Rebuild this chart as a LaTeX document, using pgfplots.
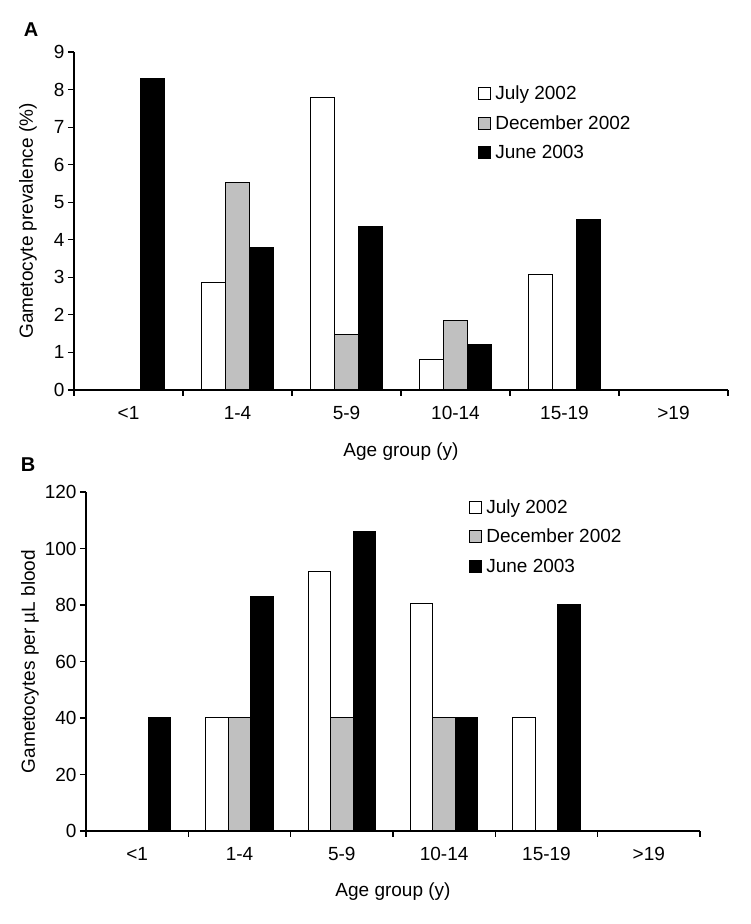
\documentclass[border=0pt]{standalone}
\usepackage{fontspec}
\setmainfont{Liberation Sans}
\usepackage{pgfplots}
\pgfplotsset{compat=1.18}
\definecolor{bargray}{RGB}{192,192,192}

\pgfplotsset{
  agestyle/.style={
    scale only axis,
    anchor=south west,
    xmin=-0.5, xmax=5.5,
    ymin=0,
    axis x line*=bottom, axis y line*=left,
    axis line style={line width=1.3pt, black},
    tick align=outside,
    xtick={-0.5,0.5,...,5.5},
    x tick label as interval,
    xticklabels={<1,1-4,5-9,10-14,15-19,>19},
    xticklabel style={yshift=-7pt},
    major tick length=6pt,
    every tick/.style={line width=1.2pt, black},
    ybar=0pt, bar width=0.22,
    tick label style={font=\fontsize{19}{22}\selectfont},
    label style={font=\fontsize{19}{22}\selectfont},
    /pgf/number format/assume math mode=true,
    legend style={draw=none, fill=none, font=\fontsize{19}{22}\selectfont,
      anchor=north west, row sep=10.5pt, column sep=2.8pt, inner sep=0pt},
    legend cell align=left,
    legend image code/.code={\draw[#1, line width=0.8pt] (0pt,-6pt) rectangle (12pt,6pt);},
  },
  julybar/.style={fill=white, draw=black, line width=1pt},
  decbar/.style={fill=bargray, draw=black, line width=1pt},
  junebar/.style={fill=black, draw=black, line width=1pt},
}

\begin{document}
\begin{tikzpicture}
\path[use as bounding box] (0,0) rectangle (750pt,924pt);

% panel A: prevalence
\begin{axis}[agestyle,
  at={(74pt,534pt)}, width=654pt, height=338pt,
  ymax=9, ytick={0,1,...,9},
  ylabel={Gametocyte prevalence (\%)},
  ylabel style={at={(axis description cs:-0.0703,0.5)}, anchor=center},
  xlabel={Age group (y)},
  xlabel style={at={(axis description cs:0.5,-0.183)}, anchor=center},
  legend style={at={(0.617,0.906)}},
]
\addplot[julybar] coordinates {(1,2.85) (2,7.8) (3,0.8) (4,3.08)};
\addlegendentry{July 2002}
\addplot[decbar] coordinates {(1,5.53) (2,1.49) (3,1.86)};
\addlegendentry{December 2002}
\addplot[junebar] coordinates {(0,8.3) (1,3.8) (2,4.36) (3,1.22) (4,4.54)};
\addlegendentry{June 2003}
\end{axis}

% panel B: density
\begin{axis}[agestyle,
  at={(86pt,93pt)}, width=614pt, height=339pt,
  ymax=120, ytick={0,20,...,120},
  ylabel={Gametocytes per µL blood},
  ylabel style={at={(axis description cs:-0.0912,0.5)}, anchor=center},
  xlabel={Age group (y)},
  xlabel style={at={(axis description cs:0.5,-0.18)}, anchor=center},
  legend style={at={(0.623,0.985)}},
]
\addplot[julybar] coordinates {(1,40) (2,91.7) (3,80.4) (4,40)};
\addlegendentry{July 2002}
\addplot[decbar] coordinates {(1,40) (2,40) (3,40)};
\addlegendentry{December 2002}
\addplot[junebar] coordinates {(0,40) (1,83) (2,106) (3,40) (4,80)};
\addlegendentry{June 2003}
\end{axis}

\node[font=\bfseries\fontsize{20}{24}\selectfont] at (31pt,894pt) {A};
\node[font=\bfseries\fontsize{20}{24}\selectfont] at (28pt,459pt) {B};
\end{tikzpicture}
\end{document}
